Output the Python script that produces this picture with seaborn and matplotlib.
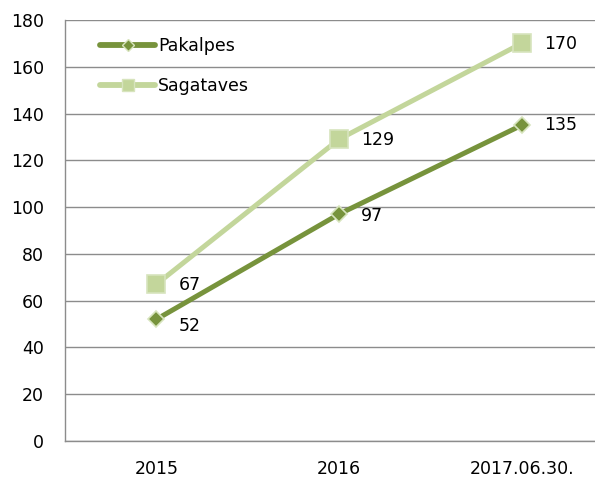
import pandas as pd
import seaborn as sns
import matplotlib.pyplot as plt
from matplotlib.ticker import MultipleLocator, FixedLocator

periods = ['2015', '2016', '2017.06.30.']
pakalpes = [52, 97, 135]
sagataves = [67, 129, 170]

dark = '#77933C'
light = '#C3D69B'

sns.set_style('white')
plt.rcParams['font.family'] = ['DejaVu Sans']

df = pd.DataFrame({
    'x': list(range(len(periods))) * 2,
    'value': pakalpes + sagataves,
    'series': ['Pakalpes'] * 3 + ['Sagataves'] * 3,
})

fig = plt.figure(figsize=(5.95, 4.79), dpi=100)
ax = fig.add_axes([65 / 595, 38 / 479, 548 / 595, 421 / 479])

sns.lineplot(data=df, x='x', y='value', hue='series', style='series',
             palette={'Pakalpes': dark, 'Sagataves': light},
             markers={'Pakalpes': 'D', 'Sagataves': 's'}, dashes=False,
             linewidth=3.6, ax=ax, legend=False)

# marker styling
lines = ax.get_lines()
lines[0].set_markersize(8)
lines[0].set_markeredgecolor('#D7E4BD')
lines[0].set_markeredgewidth(1.2)
lines[1].set_markersize(13)
lines[1].set_markeredgecolor('#D7E4BD')
lines[1].set_markeredgewidth(1.2)
lines[1].set_zorder(2)
lines[0].set_zorder(3)

fs = 12.5

# data labels to the right
offsets_p = [(22, -7), (22, -2), (22, 0)]
offsets_s = [(22, -1), (22, -1), (22, -1)]
for i, v in enumerate(pakalpes):
    ax.annotate(str(v), (i, v), xytext=offsets_p[i], textcoords='offset pixels',
                ha='left', va='center', fontsize=fs, color='black')
for i, v in enumerate(sagataves):
    ax.annotate(str(v), (i, v), xytext=offsets_s[i], textcoords='offset pixels',
                ha='left', va='center', fontsize=fs, color='black')

ax.set_xlim(-0.5, 2.5)
ax.set_ylim(0, 180)
ax.yaxis.set_major_locator(MultipleLocator(20))
ax.set_xticks(range(len(periods)))
ax.set_xticklabels(periods)
ax.xaxis.set_minor_locator(FixedLocator([-0.5, 0.5, 1.5, 2.5]))
ax.tick_params(axis='x', which='major', length=0, pad=14, labelsize=fs, labelcolor='black')
ax.tick_params(axis='x', which='minor', length=5, width=1, color='#888888', direction='out')
ax.tick_params(axis='y', length=5, width=1, color='#888888', direction='out',
               labelsize=fs, pad=10, labelcolor='black')
ax.set_xlabel('')
ax.set_ylabel('')
ax.grid(axis='y', color='#8c8c8c', linewidth=1)
ax.set_axisbelow(True)
for side in ['top', 'right']:
    ax.spines[side].set_visible(False)
for side in ['left', 'bottom']:
    ax.spines[side].set_color('#8c8c8c')
    ax.spines[side].set_linewidth(1)

handles = [
    plt.Line2D([], [], color=dark, linewidth=4.2, marker='D', markersize=6,
               markerfacecolor=dark, markeredgecolor='#D7E4BD'),
    plt.Line2D([], [], color=light, linewidth=4.2, marker='s', markersize=9,
               markerfacecolor=light, markeredgecolor='#D7E4BD'),
]
leg = ax.legend(handles, ['Pakalpes', 'Sagataves'], loc='upper left',
                bbox_to_anchor=(0.035, 0.997), frameon=False, fontsize=fs,
                handlelength=3.2, handletextpad=0.15, labelspacing=1.3)
for t in leg.get_texts():
    t.set_color('black')

fig.savefig('out.png', dpi=100)
